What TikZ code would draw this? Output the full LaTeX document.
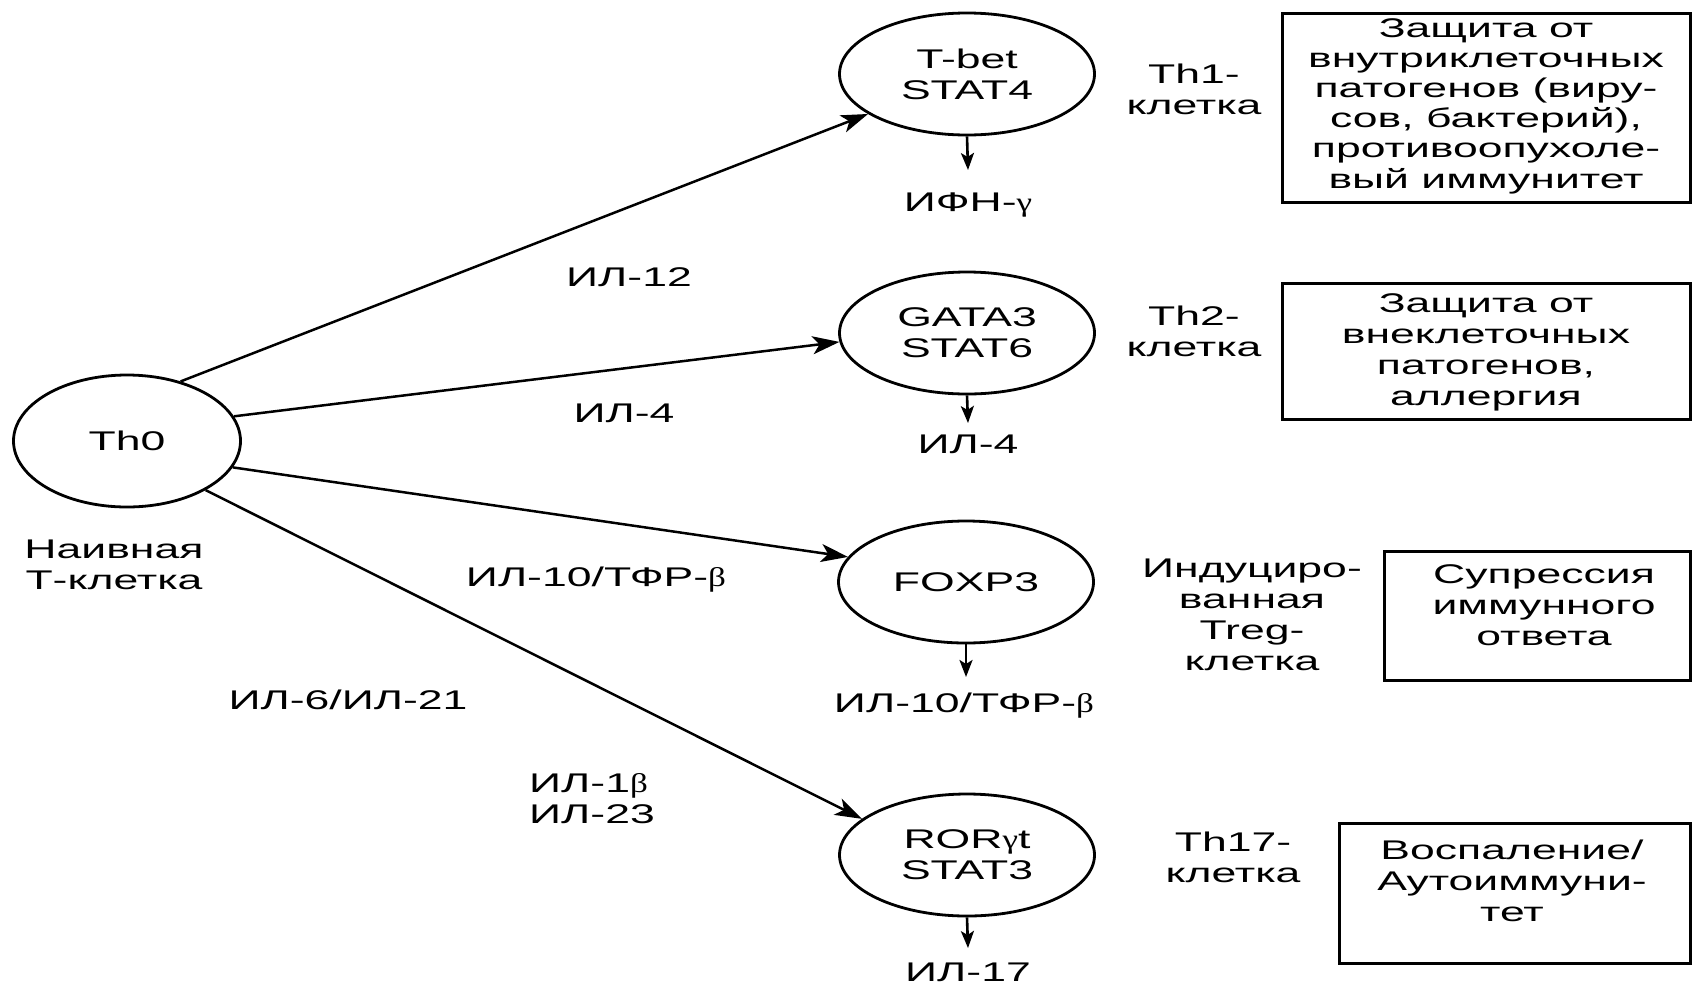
\documentclass[tikz,border=0pt]{standalone}
\usepackage{fontspec}
\setmainfont{Liberation Sans}[FakeStretch=1.65]
\newfontfamily\grkfont{Liberation Serif}[FakeStretch=1.3]
\newcommand{\gk}[1]{{\grkfont #1}}
\usetikzlibrary{shapes.geometric,arrows.meta}
\begin{document}
\begin{tikzpicture}[x=1pt,y=-1pt,
  every node/.style={font=\fontsize{27}{31}\selectfont, align=center, inner sep=0pt},
  cell/.style={ellipse, draw, line width=2.8pt, minimum width=255pt, minimum height=122pt},
  resbox/.style={draw, line width=3pt, rectangle},
  mainarrow/.style={line width=2.5pt, -{Stealth[length=27pt,width=18pt,inset=7pt]}},
  outarrow/.style={line width=2.6pt, -{Stealth[length=17pt,width=13pt,inset=4pt]}},
]
\useasboundingbox (0,0) rectangle (1693,986);

% naive cell
\node[ellipse, draw, line width=2.8pt, minimum width=227pt, minimum height=132pt] (th0) at (127,441) {Th0};
\node (naive) at (114,565) {Наивная\\Т-клетка};

% differentiated cells
\node[cell] (tbet) at (967,74) {T-bet\\STAT4};
\node[cell] (gata) at (967,333) {GATA3\\STAT6};
\node[cell] (foxp) at (966,582) {FOXP3};
\node[cell] (ror) at (967,855) {ROR\gk{γ}t\\STAT3};

% main arrows
\draw[mainarrow] (th0.48) -- (tbet.202);
\draw[mainarrow] (th0.13) -- (gata.184);
\draw[mainarrow] (th0.346) -- (foxp.168);
\draw[mainarrow] (th0.328) -- (ror.161);

% edge labels
\node (l12) at (629,277) {ИЛ-12};
\node (l4) at (624,413) {ИЛ-4};
\node (l10) at (596,580) {ИЛ-10/ТФР-\gk{β}};
\node (l6) at (348,700) {ИЛ-6/ИЛ-21};
\node[align=left] (l1) at (592,799) {ИЛ-1\gk{β}\\ИЛ-23};

% products
\coordinate (tbetout) at (968,170);
\coordinate (gataout) at (968,423);
\coordinate (foxpout) at (966,677);
\coordinate (rorout) at (968,948);
\draw[outarrow] (tbet.south) -- (tbetout);
\draw[outarrow] (gata.south) -- (gataout);
\draw[outarrow] (foxp.south) -- (foxpout);
\draw[outarrow] (ror.south) -- (rorout);
\node (ifn) at (968,205) {ИФН-\gk{γ}};
\node (il4) at (968,444) {ИЛ-4};
\node (il10) at (964,706) {ИЛ-10/ТФР-\gk{β}};
\node (il17) at (968,972) {ИЛ-17};

% cell type names
\node (th1) at (1194,89) {Th1-\\клетка};
\node (th2) at (1194,331) {Th2-\\клетка};
\node (treg) at (1252,615) {Индуциро-\\ванная\\Treg-\\клетка};
\node (th17) at (1233,857) {Th17-\\клетка};

% functions
\node[resbox, minimum width=408pt, minimum height=189pt] (f1) at (1486,107.5) {};
\node[font=\fontsize{27}{30.2}\selectfont] (f1t) at (1486,106) {Защита от\\внутриклеточных\\патогенов (виру-\\сов, бактерий),\\противоопухоле-\\вый иммунитет};
\node[resbox, minimum width=408pt, minimum height=136pt] (f2) at (1486,351) {};
\node (f2t) at (1486,352) {Защита от\\внеклеточных\\патогенов,\\аллергия};
\node[resbox, minimum width=306pt, minimum height=129pt] (f3) at (1537,615.5) {};
\node (f3t) at (1544,605) {Супрессия\\иммунного\\ответа};
\node[resbox, minimum width=351pt, minimum height=140pt] (f4) at (1514.5,893) {};
\node (f4t) at (1512,881) {Воспаление/\\Аутоиммуни-\\тет};
\end{tikzpicture}
\end{document}
